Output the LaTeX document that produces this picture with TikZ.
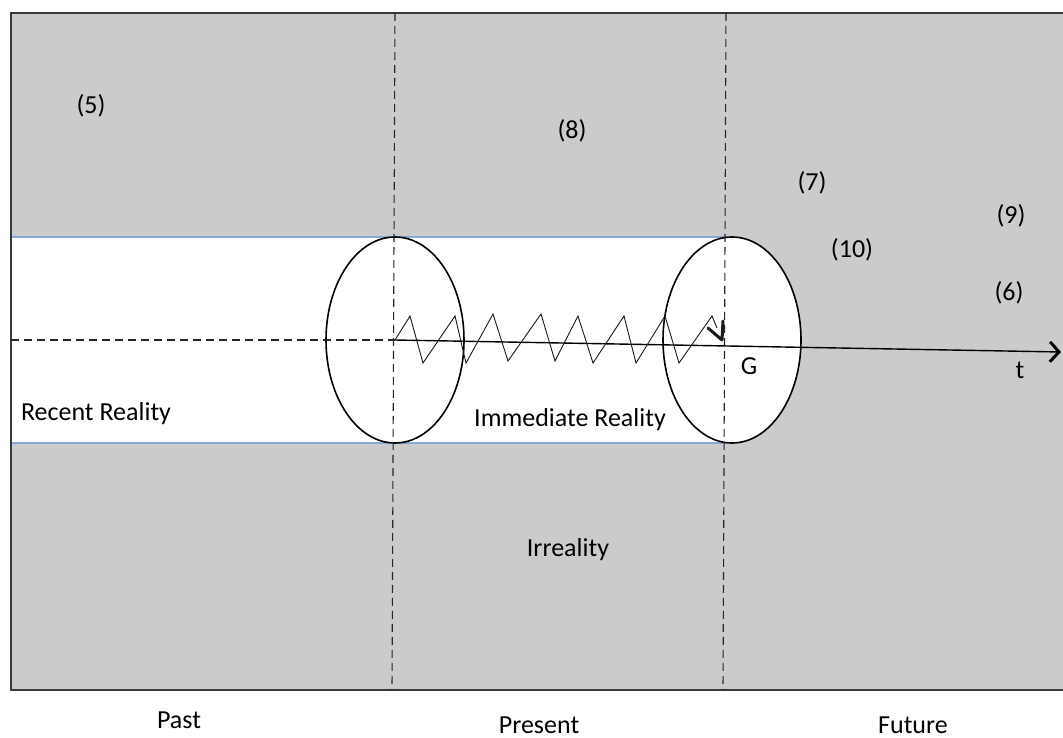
\documentclass[tikz,border=0pt]{standalone}
\usepackage{fontspec}
\setmainfont{Carlito}
\usetikzlibrary{shapes.geometric,arrows.meta}
\definecolor{bg}{HTML}{CBCBCB}
\definecolor{frame}{HTML}{3A3A3A}
\definecolor{bandblue}{HTML}{86A9D4}
\begin{document}
\begin{tikzpicture}[x=1pt,y=-1pt,
  lbl/.style={font=\fontsize{26}{30}\selectfont, inner sep=0pt, text=black},
  dashv/.style={draw=black!85, line width=1.1pt, dash pattern=on 8pt off 5pt},
  oval/.style={ellipse, draw=black, fill=white, line width=1.6pt, minimum width=138pt, minimum height=206pt, inner sep=0pt},
  zig/.style={draw=black!90, line width=0.9pt},
  axis/.style={draw=black, line width=1.4pt, -{Straight Barb[length=9pt,width=20pt,line width=3pt]}}]
\useasboundingbox (0,0) rectangle (1063,738);
\clip (0,0) rectangle (1063,738);
\fill[white] (0,0) rectangle (1063,738);
% grey field
\fill[bg] (11,13) rectangle (1070,690);
% white band
\draw[bandblue, line width=1.5pt, fill=white] (11,237) rectangle (725,443);
% ellipses
\node[oval] (E1) at (395,340) {};
\node[oval] (E2) at (732,340) {};
% frame
\draw[frame, line width=2pt] (1070,13) -- (11,13) -- (11,690) -- (1070,690);
% dashed verticals
\coordinate (v1t) at (395,13); \coordinate (v1b) at (392,690);
\coordinate (v2t) at (726,13); \coordinate (v2b) at (723,690);
\draw[dashv] (v1t) -- (v1b);
\draw[dashv] (v2t) -- (v2b);
% horizontal dashed (past)
\coordinate (L) at (11,340);
\coordinate (O) at (395,340);
\coordinate (T) at (1061,352);
\draw[dashv] (L) -- (O);
% time axis
\draw[axis] (O) -- (T);
% zigzag
\coordinate (Z) at (722,340);
\draw[zig] (O) -- (410,316) -- (423,363) -- (455,316) -- (466,363) -- (493,314) -- (508,361) -- (541,314) -- (555,361) -- (578,316) -- (593,363) -- (624,316) -- (636,363) -- (665,316) -- (679,363) -- (712,316) -- (717,328);
\draw[zig, line width=3pt, line cap=round, line join=round] (708,328) -- (Z) -- (723,321);
% labels
\node[lbl] (n5) at (91,106) {(5)};
\node[lbl] (n8) at (572,131) {(8)};
\node[lbl] (n7) at (812,183) {(7)};
\node[lbl] (n9) at (1011,216) {(9)};
\node[lbl] (n10) at (852,250) {(10)};
\node[lbl] (n6) at (1009,293) {(6)};
\node[lbl] (G) at (749,366) {G};
\node[lbl] (t) at (1020,370) {t};
\node[lbl] (rr) at (96,414) {Recent Reality};
\node[lbl] (ir) at (570,420) {Immediate Reality};
\node[lbl] (irr) at (568,550) {Irreality};
\node[lbl] (past) at (179,720) {Past};
\node[lbl] (pres) at (539,725) {Present};
\node[lbl] (fut) at (913,725) {Future};
\end{tikzpicture}
\end{document}
